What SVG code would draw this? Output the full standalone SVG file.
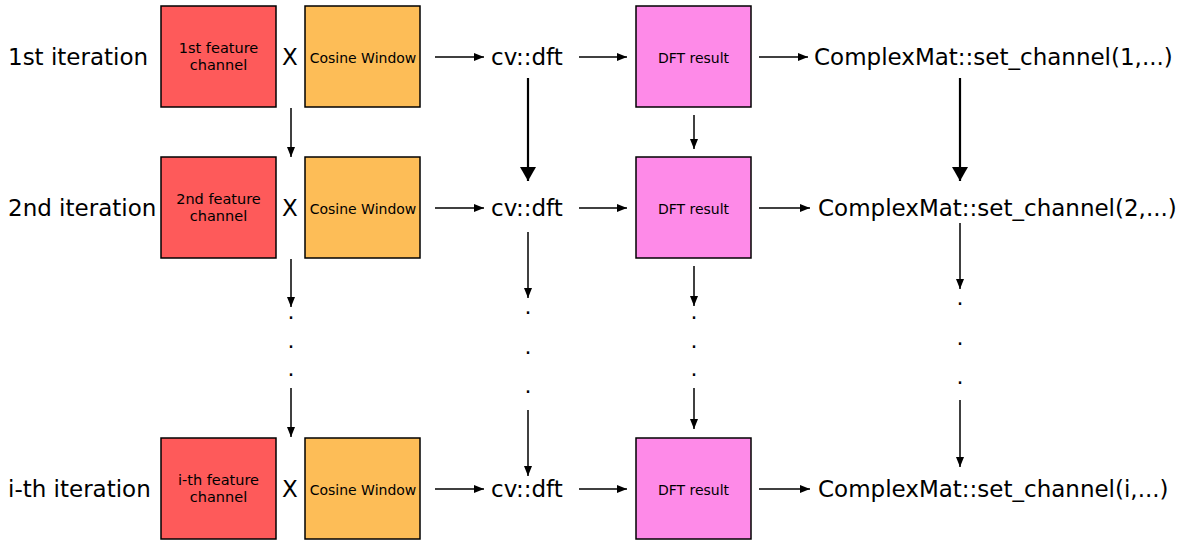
<svg xmlns="http://www.w3.org/2000/svg" width="1184" height="541" viewBox="0 0 1184 541">
<style>
text{font-family:"DejaVu Sans","Liberation Sans",sans-serif;fill:#000}
.lbl{font-size:23px}
.box{stroke:#000;stroke-width:1.5}
.red{fill:#fe5a5a}.org{fill:#fdbd57}.pnk{fill:#fe8ae8}
.bt{font-size:14px;text-anchor:middle}
.ft{font-size:14.5px;text-anchor:middle}
.ln{stroke:#000;stroke-width:1.5;fill:none}
.lnb{stroke:#000;stroke-width:2.2;fill:none}
.dot{font-size:22px;text-anchor:middle}
</style>
<defs>
<marker id="ah" viewBox="0 0 10 8" refX="10" refY="4" markerWidth="10" markerHeight="8" markerUnits="userSpaceOnUse" orient="auto"><path d="M0,0L10,4L0,8z" fill="#000"/></marker>
<marker id="ahb" viewBox="0 0 14 16" refX="14" refY="8" markerWidth="14" markerHeight="16" markerUnits="userSpaceOnUse" orient="auto"><path d="M0,0L14,8L0,16z" fill="#000"/></marker>
</defs>
<g id="labels">
<text class="lbl" x="8" y="65">1st iteration</text>
<text class="lbl" x="8" y="216">2nd iteration</text>
<text class="lbl" x="8" y="497">i-th iteration</text>
<text class="lbl" x="290" y="65" text-anchor="middle">X</text>
<text class="lbl" x="290" y="216" text-anchor="middle">X</text>
<text class="lbl" x="290" y="497" text-anchor="middle">X</text>
</g>
<g id="feat1"><rect class="box red" x="161" y="6" width="115" height="101"/><text class="ft" x="218.5" y="53">1st feature</text><text class="ft" x="218.5" y="70">channel</text></g>
<g id="feat2"><rect class="box red" x="161" y="157" width="115" height="101"/><text class="ft" x="218.5" y="204">2nd feature</text><text class="ft" x="218.5" y="221">channel</text></g>
<g id="feati"><rect class="box red" x="161" y="438" width="115" height="101"/><text class="ft" x="218.5" y="485">i-th feature</text><text class="ft" x="218.5" y="502">channel</text></g>
<g id="cos1"><rect class="box org" x="305" y="6" width="115" height="101"/><text class="bt" x="363" y="63">Cosine Window</text></g>
<g id="cos2"><rect class="box org" x="305" y="157" width="115" height="101"/><text class="bt" x="363" y="214">Cosine Window</text></g>
<g id="cosi"><rect class="box org" x="305" y="438" width="115" height="101"/><text class="bt" x="363" y="495">Cosine Window</text></g>
<g id="dft1"><text class="lbl" x="491" y="65">cv::dft</text></g>
<g id="dft2"><text class="lbl" x="491" y="216">cv::dft</text></g>
<g id="dfti"><text class="lbl" x="491" y="497">cv::dft</text></g>
<g id="res1"><rect class="box pnk" x="636" y="6" width="115" height="101"/><text class="bt" x="693.5" y="63">DFT result</text></g>
<g id="res2"><rect class="box pnk" x="636" y="157" width="115" height="101"/><text class="bt" x="693.5" y="214">DFT result</text></g>
<g id="resi"><rect class="box pnk" x="636" y="438" width="115" height="101"/><text class="bt" x="693.5" y="495">DFT result</text></g>
<g id="cm1"><text class="lbl" x="814" y="65">ComplexMat::set_channel(1,...)</text></g>
<g id="cm2"><text class="lbl" x="818" y="216">ComplexMat::set_channel(2,...)</text></g>
<g id="cmi"><text class="lbl" x="818" y="497">ComplexMat::set_channel(i,...)</text></g>
<g id="connectors">
<path class="ln" marker-end="url(#ah)" d="M435,57H484"/>
<path class="ln" marker-end="url(#ah)" d="M579,57H627"/>
<path class="ln" marker-end="url(#ah)" d="M759,57H808"/>
<path class="ln" marker-end="url(#ah)" d="M435,208H484"/>
<path class="ln" marker-end="url(#ah)" d="M579,208H627"/>
<path class="ln" marker-end="url(#ah)" d="M759,208H810"/>
<path class="ln" marker-end="url(#ah)" d="M435,489H484"/>
<path class="ln" marker-end="url(#ah)" d="M579,489H627"/>
<path class="ln" marker-end="url(#ah)" d="M759,489H810"/>
<path class="ln" marker-end="url(#ah)" d="M291,108V157"/>
<path class="ln" marker-end="url(#ah)" d="M291,259V307"/>
<path class="ln" marker-end="url(#ah)" d="M291,388V437"/>
<path class="lnb" marker-end="url(#ahb)" d="M528,78V181"/>
<path class="ln" marker-end="url(#ah)" d="M528,232V298"/>
<path class="ln" marker-end="url(#ah)" d="M528,410V476"/>
<path class="ln" marker-end="url(#ah)" d="M694,115V149"/>
<path class="ln" marker-end="url(#ah)" d="M694,266V306"/>
<path class="ln" marker-end="url(#ah)" d="M694,388V429"/>
<path class="lnb" marker-end="url(#ahb)" d="M960,78V181"/>
<path class="ln" marker-end="url(#ah)" d="M960,223V289"/>
<path class="ln" marker-end="url(#ah)" d="M960,400V467"/>
</g>
<g id="dots">
<text class="dot" x="291" y="319">.</text><text class="dot" x="291" y="348">.</text><text class="dot" x="291" y="376">.</text>
<text class="dot" x="528" y="314">.</text><text class="dot" x="528" y="354">.</text><text class="dot" x="528" y="393">.</text>
<text class="dot" x="694" y="319">.</text><text class="dot" x="694" y="348">.</text><text class="dot" x="694" y="376">.</text>
<text class="dot" x="960" y="305">.</text><text class="dot" x="960" y="345">.</text><text class="dot" x="960" y="384">.</text>
</g>
</svg>
